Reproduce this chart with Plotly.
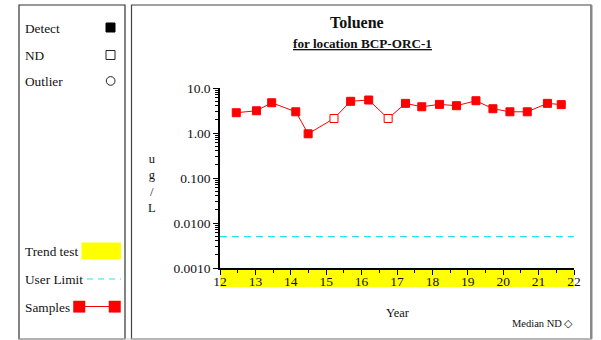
import plotly.graph_objects as go

# ---------------- data ----------------
years = [12.46, 13.03, 13.46, 14.14, 14.49, 15.22, 15.69, 16.20, 16.75, 17.24,
         17.70, 18.20, 18.68, 19.23, 19.71, 20.19, 20.68, 21.25, 21.64]
values = [2.82, 3.12, 4.70, 2.96, 0.96, 2.1, 5.06, 5.41, 2.1, 4.56,
          3.83, 4.33, 4.04, 5.21, 3.46, 2.96, 2.96, 4.56, 4.27]
is_nd = [False, False, False, False, False, True, False, False, True, False,
         False, False, False, False, False, False, False, False, False]
median_nd_x = [22.06]
median_nd_y = [2.0]
user_limit = 0.005
x_range = [12, 22]
y_tickvals = [0.001, 0.01, 0.1, 1, 10]
y_ticktext = ["0.0010", "0.0100", "0.100", "1.00", "10.0"]
x_tickvals = list(range(12, 23))

# ---------------- layout geometry ----------------
W, H = 601, 340
L, R, T, B = 220, 27, 88, 72
PW, PH = W - L - R, H - T - B
FONT = "Liberation Serif, Times New Roman, serif"


def px(x):
    return (x - L) / PW


def py(y):
    return (H - B - y) / PH


RED = "#ff0000"
CYAN = "#22e6e6"

fig = go.Figure()

# user limit
fig.add_trace(go.Scatter(x=x_range, y=[user_limit, user_limit], mode="lines",
                         line=dict(color=CYAN, width=1.2, dash="7px,5px"),
                         hoverinfo="skip", showlegend=False))

# samples
fig.add_trace(go.Scatter(
    x=years, y=values, mode="lines+markers",
    line=dict(color=RED, width=1),
    marker=dict(symbol="square", size=8,
                color=["white" if n else RED for n in is_nd],
                line=dict(color=RED, width=1)),
    showlegend=False, cliponaxis=False))

# median ND
fig.add_trace(go.Scatter(x=median_nd_x, y=median_nd_y, mode="markers",
                         marker=dict(symbol="diamond-open", size=8,
                                     color=RED, line=dict(width=1.2)),
                         showlegend=False, cliponaxis=False))

shapes = []
# frames
shapes.append(dict(type="rect", xref="paper", yref="paper",
                   x0=px(19), x1=px(125), y0=py(339), y1=py(5),
                   line=dict(color="#333333", width=1.2), layer="below"))
shapes.append(dict(type="rect", xref="paper", yref="paper",
                   x0=px(131.5), x1=px(591), y0=py(339), y1=py(5),
                   line=dict(color="#444444", width=1.2), layer="below"))
shapes.append(dict(type="line", xref="paper", yref="paper",
                   x0=px(591.5), x1=px(591.5), y0=py(339), y1=py(5),
                   line=dict(color="#888888", width=2), layer="below"))
shapes.append(dict(type="line", xref="paper", yref="paper",
                   x0=px(19), x1=px(591), y0=py(339), y1=py(339),
                   line=dict(color="#cccccc", width=1), layer="below"))
# trend test band under x axis
shapes.append(dict(type="rect", xref="x", yref="paper",
                   x0=x_range[0], x1=x_range[1], y0=py(287), y1=py(268),
                   fillcolor="#ffff00", line=dict(width=0), layer="below"))

# legend symbols
shapes.append(dict(type="rect", xref="paper", yref="paper",
                   x0=px(106), x1=px(115), y0=py(32), y1=py(23),
                   fillcolor="black", line=dict(color="black", width=1)))
shapes.append(dict(type="rect", xref="paper", yref="paper",
                   x0=px(106), x1=px(115), y0=py(59.5), y1=py(50.5),
                   fillcolor="white", line=dict(color="#222222", width=1)))
shapes.append(dict(type="circle", xref="paper", yref="paper",
                   x0=px(106.3), x1=px(115), y0=py(85.3), y1=py(76.6),
                   fillcolor="white", line=dict(color="#222222", width=1)))
shapes.append(dict(type="rect", xref="paper", yref="paper",
                   x0=px(81.5), x1=px(121), y0=py(259), y1=py(242.5),
                   fillcolor="#ffff00", line=dict(width=0)))
shapes.append(dict(type="line", xref="paper", yref="paper",
                   x0=px(87), x1=px(121), y0=py(279), y1=py(279),
                   line=dict(color=CYAN, width=1.2, dash="6px,5px")))
shapes.append(dict(type="line", xref="paper", yref="paper",
                   x0=px(79), x1=px(115), y0=py(306.5), y1=py(306.5),
                   line=dict(color=RED, width=1)))
for x0 in (73.5, 109):
    shapes.append(dict(type="rect", xref="paper", yref="paper",
                       x0=px(x0), x1=px(x0 + 11.5), y0=py(312.3), y1=py(301),
                       fillcolor=RED, line=dict(color=RED, width=0.5)))

annotations = []


def text(x, y, s, size=13, xanchor="left", **kw):
    annotations.append(dict(x=px(x), y=py(y), xref="paper", yref="paper",
                            text=s, showarrow=False, xanchor=xanchor,
                            yanchor="middle",
                            font=dict(family=FONT, size=size, color="#111111"),
                            **kw))


for label, yy in [("Detect", 28), ("ND", 55), ("Outlier", 82),
                  ("Trend test", 251), ("User Limit", 279), ("Samples", 307)]:
    text(23, yy, label, size=13.3)
text(357, 22, "<b>Toluene</b>", size=16, xanchor="center")
text(362, 43, "<b><u>for location BCP-ORC-1</u></b>", size=13.2, xanchor="center")
text(152, 183, "u<br>g<br>/<br>L", size=12.5, xanchor="center")
text(398, 313, "Year", size=12.5, xanchor="center")
text(510, 323, "Median ND \u25C7", size=10.5)

minor_vals = [m * 10 ** e for e in range(-3, 1) for m in range(2, 10)]

fig.update_layout(
    width=W, height=H,
    margin=dict(l=L, r=R, t=T, b=B, pad=0),
    paper_bgcolor="white", plot_bgcolor="white",
    shapes=shapes, annotations=annotations,
    font=dict(family=FONT, size=13, color="#111111"),
    xaxis=dict(range=x_range, tickmode="array", tickvals=x_tickvals,
               ticks="outside", ticklen=5, tickwidth=1, tickcolor="black",
               showline=True, linecolor="black", linewidth=1.5,
               showgrid=False, zeroline=False, ticklabelstandoff=-5,
               minor=dict(ticks="outside", ticklen=3, dtick=0.5,
                          tickcolor="black", showgrid=False),
               tickfont=dict(family=FONT, size=13.5, color="#111111")),
    yaxis=dict(type="log", range=[-3, 1], tickmode="array",
               tickvals=y_tickvals, ticktext=y_ticktext,
               ticks="outside", ticklen=5, tickwidth=1, tickcolor="black",
               showline=True, linecolor="black", linewidth=1.5,
               showgrid=False, zeroline=False,
               minor=dict(ticks="outside", ticklen=3, tickvals=minor_vals,
                          tickcolor="black", showgrid=False),
               tickfont=dict(family=FONT, size=13.5, color="#111111")),
)

fig.write_html("out.html")
